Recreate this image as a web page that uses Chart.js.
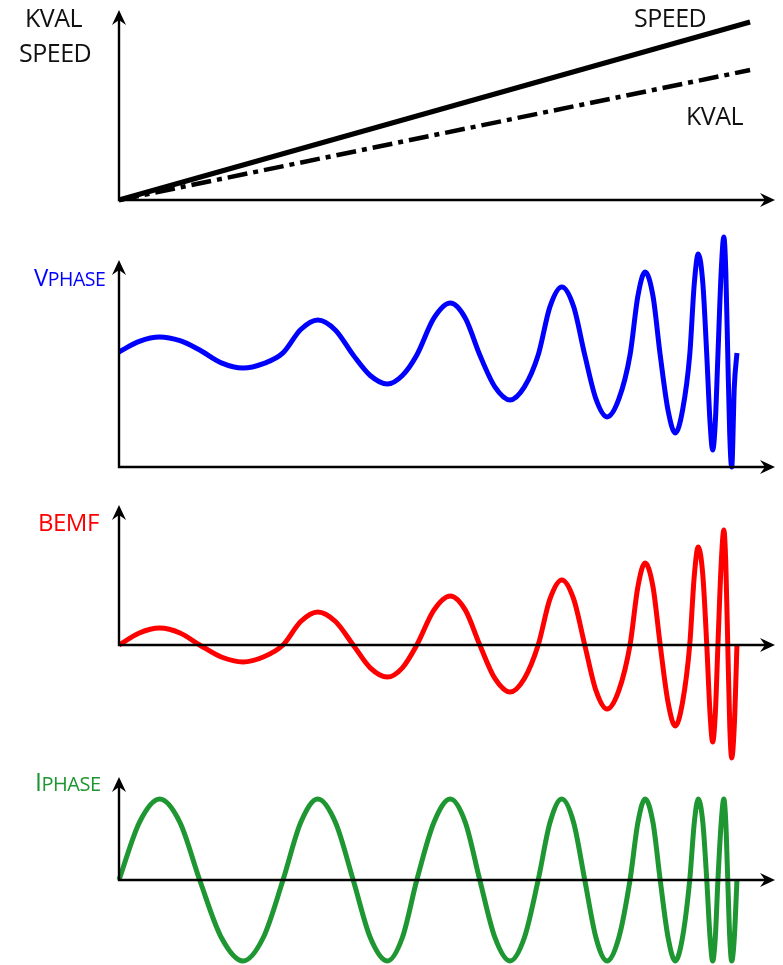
<!DOCTYPE html>
<html>
<head>
<meta charset="utf-8">
<script src="https://cdn.jsdelivr.net/npm/chart.js@4"></script>
<style>
  body { margin: 0; background: #fff; }
  #page { position: relative; width: 783px; height: 965px; overflow: hidden; }
  canvas { position: absolute; left: 0; }
  .lbl { position: absolute; font-family: "Open Sans", sans-serif; line-height: 1; white-space: nowrap; letter-spacing: -0.5px; }
  .lbl span { line-height: 1; }
</style>
</head>
<body>
<div id="page">
  <canvas id="c1" width="783" height="230" style="top:0"></canvas>
  <canvas id="c2" width="783" height="250" style="top:230px"></canvas>
  <canvas id="c3" width="783" height="320" style="top:480px"></canvas>
  <canvas id="c4" width="783" height="205" style="top:760px"></canvas>

  <div class="lbl" style="left:25px;top:5px;font-size:25px;color:#111">KVAL</div>
  <div class="lbl" style="left:19px;top:40px;font-size:25px;color:#111">SPEED</div>
  <div class="lbl" style="left:634px;top:5px;font-size:25px;color:#111">SPEED</div>
  <div class="lbl" style="left:686px;top:103px;font-size:25px;color:#111">KVAL</div>
  <div class="lbl" style="left:34px;top:265px;font-size:24px;color:#0000ff">V<span style="font-size:19.5px">PHASE</span></div>
  <div class="lbl" style="left:38px;top:510px;font-size:24px;color:#ff0000">BEMF</div>
  <div class="lbl" style="left:35px;top:769px;font-size:25px;color:#1e9632">I<span style="font-size:20px">PHASE</span></div>
</div>

<script>
// top panel: straight ramps
const rampT  = [0, 96.2];
const speed  = [0, 93.7];
const kval   = [0, 68.4];

// shared time points for the three waveforms (0-100 along the x axis)
const waveT  = [0, 3.1, 6.2, 9.3, 12.3, 15.6, 18.9, 22.0, 25.0, 27.7, 30.3, 33.0, 35.7, 38.3,
                40.9, 43.2, 45.4, 48.0, 50.5, 52.8, 55.0, 57.3, 59.6, 61.8, 63.9, 65.7, 67.5, 69.3,
                71.0, 72.7, 74.4, 76.2, 77.9, 79.1, 80.2, 81.4, 82.5, 83.7, 84.8, 85.9, 87.0, 87.7,
                88.3, 89.0, 89.6, 90.1, 90.5, 90.9, 91.3, 91.8, 92.2, 92.5, 92.8, 93.1, 93.4, 93.8, 94.2];
const vphase = [55.6, 60.7, 62.8, 61.0, 56.5, 50.3, 47.8, 49.9, 55.1, 66.4, 71.0, 66.1, 54.1, 44.2,
                40.1, 44.2, 54.1, 71.9, 79.2, 71.9, 54.1, 38.7, 32.4, 38.7, 54.1, 77.5, 87.0, 77.5,
                54.1, 32.9, 24.2, 32.9, 54.1, 82.6, 94.2, 82.6, 54.1, 27.3, 16.4, 27.3, 54.1, 88.7,
                102.9, 88.7, 54.1, 21.5, 8.2, 21.5, 54.1, 94.6, 111.1, 94.6, 54.1, 15.7, 0, 39.0, 55.1];
const bemf   = [0, 8.6, 12.1, 8.6, 0, -8.6, -12.1, -8.6, 0, 16.8, 23.6, 16.8, 0, -16.3,
                -22.9, -16.3, 0, 24.9, 35.0, 24.9, 0, -23.9, -33.6, -23.9, 0, 32.9, 46.4, 32.9,
                0, -32.4, -45.7, -32.4, 0, 41.6, 58.6, 41.6, 0, -41.1, -57.9, -41.1, 0, 49.7,
                70.0, 49.7, 0, -49.2, -69.3, -49.2, 0, 58.3, 82.1, 58.3, 0, -57.3, -80.7, -57.3, 0];
const iphase = [0, 55.8, 78.6, 55.8, 0, -55.8, -78.6, -55.8, 0, 55.8, 78.6, 55.8, 0, -55.8,
                -78.6, -55.8, 0, 55.8, 78.6, 55.8, 0, -55.8, -78.6, -55.8, 0, 55.8, 78.6, 55.8,
                0, -55.8, -78.6, -55.8, 0, 55.8, 78.6, 55.8, 0, -55.8, -78.6, -55.8, 0, 55.8,
                78.6, 55.8, 0, -55.8, -78.6, -55.8, 0, 55.8, 78.6, 55.8, 0, -55.8, -78.6, -55.8, 0];

const pts = (xs, ys) => xs.map((x, i) => ({ x: x, y: ys[i] }));

function arrowHead(ctx, x, y, angle) {
    ctx.save();
    ctx.translate(x, y);
    ctx.rotate(angle);
    ctx.beginPath();
    ctx.moveTo(0, 0);
    ctx.lineTo(-15, -7);
    ctx.lineTo(-10, 0);
    ctx.lineTo(-15, 7);
    ctx.closePath();
    ctx.fill();
    ctx.restore();
}

// axes with arrow heads, drawn over the curves
const arrowAxes = {
    id: 'arrowAxes',
    afterDatasetsDraw(chart) {
        const { ctx, chartArea: a, scales: { x, y } } = chart;
        const x0 = x.getPixelForValue(0);
        const y0 = y.getPixelForValue(0);
        ctx.save();
        ctx.strokeStyle = '#000';
        ctx.fillStyle = '#000';
        ctx.lineWidth = 2.4;
        ctx.beginPath();
        ctx.moveTo(x0 - 1.2, y0);
        ctx.lineTo(a.right - 8, y0);
        ctx.moveTo(x0, y0 + 1.2);
        ctx.lineTo(x0, a.top + 8);
        ctx.stroke();
        arrowHead(ctx, a.right, y0, 0);
        arrowHead(ctx, x0, a.top, -Math.PI / 2);
        ctx.restore();
    }
};

function makePanel(id, datasets, yMin, yMax, padTop, padBottom) {
    new Chart(document.getElementById(id).getContext('2d'), {
        type: 'line',
        data: { datasets: datasets },
        options: {
            responsive: false,
            animation: false,
            events: [],
            layout: { padding: { left: 119, right: 8, top: padTop, bottom: padBottom } },
            scales: {
                x: { type: 'linear', min: 0, max: 100, display: false },
                y: { min: yMin, max: yMax, display: false }
            },
            plugins: { legend: { display: false }, tooltip: { enabled: false } }
        },
        plugins: [arrowAxes]
    });
}

const wave = (ys, color) => ({
    data: pts(waveT, ys),
    borderColor: color,
    borderWidth: 5,
    pointRadius: 0,
    cubicInterpolationMode: 'monotone',
    clip: false,
    fill: false
});

makePanel('c1', [
    { data: pts(rampT, speed), borderColor: '#000', borderWidth: 5, pointRadius: 0, clip: false },
    { data: pts(rampT, kval), borderColor: '#000', borderWidth: 4.5, borderDash: [20, 6, 5, 6], pointRadius: 0, clip: false }
], 0, 100, 10, 30);

makePanel('c2', [wave(vphase, '#0000ff')], 0, 100, 30, 13);
makePanel('c3', [wave(bemf, '#ff0000')], -100, 100, 25, 15);
makePanel('c4', [wave(iphase, '#1e9632')], -82.5, 100, 17, 0);
</script>
</body>
</html>
